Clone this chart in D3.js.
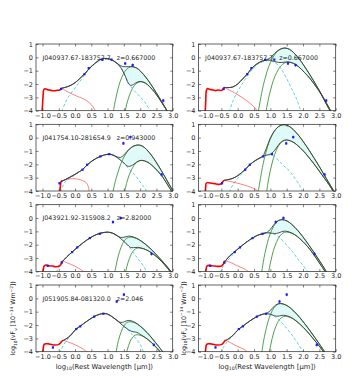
<!DOCTYPE html>
<html><head><meta charset="utf-8">
<script src="https://cdn.jsdelivr.net/npm/d3@7"></script>
<style>body{margin:0;background:#fff}svg{display:block}text{font-family:"DejaVu Sans",sans-serif}</style>
</head><body>
<svg id="c" width="359" height="376"></svg>
<script>
// ---------------- data ----------------
const xTickVals = [-1.0,-0.5,0.0,0.5,1.0,1.5,2.0,2.5,3.0];
const yTickVals = [1,0,-1,-2,-3,-4];
const panelText = ["J040937.67-183757.7   z=0.667000","J040937.67-183757.7   z=0.667000","J041754.10-281654.9   z=0.943000",null,"J043921.92-315908.2   z=2.82000",null,"J051905.84-081320.0   z=2.046",null];
const panelObject = [0,0,1,1,2,2,3,3];
// observed photometry per object: [log wavelength, log nuFnu, error]
const obsA = [[-0.43,-2.37,0.05],[0.29,-1.26,0.05],[0.42,-0.81,0.05],[0.84,-0.19,0.05],[1.12,-0.17,0.05],[1.54,-0.46,0.12],[1.77,-0.58,0.12],[2.71,-3.24,0.12]];
const obsB = [[-0.48,-3.42,0.08],[0.23,-2.40,0.05],[0.37,-2.03,0.05],[0.775,-1.41,0.05],[1.05,-1.24,0.05],[1.485,-0.43,0.12],[1.70,0.04,0.12],[2.66,-2.77,0.12]];
const obsC = [[-0.84,-3.58,0.08],[-0.41,-3.33,0.05],[-0.09,-2.55,0.05],[0.07,-2.2,0.05],[0.455,-1.5,0.05],[0.76,-1.18,0.05],[1.165,-0.3,0.12],[1.40,0.0,0.12],[2.35,-2.69,0.12]];
const obsD = [[-0.68,-3.68,0.08],[0.035,-2.3,0.05],[0.16,-2.1,0.05],[0.585,-1.37,0.05],[0.87,-1.15,0.05],[1.28,-0.24,0.12],[1.50,0.28,0.12],[2.42,-3.49,0.12]];
const obsByObject = [obsA,obsB,obsC,obsD];

const redThick = [
 [[-1.02,-4.3],[-1.0,-3.6],[-0.98,-2.8],[-0.96,-2.42],[-0.92,-2.36],[-0.85,-2.42],[-0.77,-2.46],[-0.7,-2.5],[-0.62,-2.5],[-0.55,-2.47],[-0.47,-2.45],[-0.42,-2.3]],
 [[-1.0,-4.3],[-0.98,-3.4],[-0.96,-2.5],[-0.93,-2.35],[-0.85,-2.4],[-0.75,-2.45],[-0.68,-2.5],[-0.6,-2.45],[-0.5,-2.48],[-0.45,-2.4],[-0.42,-2.25]],
 [[-0.47,-4.3],[-0.45,-3.6],[-0.43,-3.3],[-0.4,-3.22]],
 [[-1.0,-4.3],[-0.98,-3.7],[-0.96,-3.4],[-0.9,-3.38],[-0.8,-3.42],[-0.7,-3.45],[-0.6,-3.5],[-0.52,-3.48],[-0.47,-3.35],[-0.42,-3.2]],
 [[-1.0,-4.3],[-0.98,-3.9],[-0.95,-3.6],[-0.9,-3.52],[-0.8,-3.58],[-0.7,-3.6],[-0.6,-3.65],[-0.5,-3.62],[-0.44,-3.5],[-0.4,-3.28],[-0.37,-3.22]],
 [[-1.0,-4.3],[-0.97,-3.9],[-0.94,-3.6],[-0.88,-3.55],[-0.8,-3.58],[-0.7,-3.6],[-0.6,-3.62],[-0.5,-3.6],[-0.44,-3.45],[-0.4,-3.25],[-0.37,-3.2]],
 [[-1.0,-4.3],[-0.98,-3.8],[-0.95,-3.45],[-0.88,-3.4],[-0.8,-3.42],[-0.7,-3.48],[-0.6,-3.5],[-0.5,-3.45],[-0.45,-3.35],[-0.4,-3.2],[-0.36,-3.15]],
 [[-1.0,-4.3],[-0.98,-3.8],[-0.95,-3.45],[-0.88,-3.4],[-0.8,-3.42],[-0.7,-3.48],[-0.6,-3.5],[-0.5,-3.47],[-0.44,-3.35],[-0.39,-3.17],[-0.36,-3.15]]
];
const redThin = [
 [[-0.42,-2.3],[-0.25,-2.55],[0.0,-2.85],[0.2,-3.05],[0.36,-3.25],[0.5,-3.55],[0.6,-3.9],[0.65,-4.2]],
 [[-0.42,-2.25],[-0.3,-2.4],[-0.1,-2.65],[0.1,-2.95],[0.3,-3.3],[0.45,-3.6],[0.55,-3.85],[0.62,-4.2]],
 [[-0.4,-3.22],[-0.3,-3.15],[-0.15,-3.08],[0.0,-3.08],[0.15,-3.15],[0.3,-3.3],[0.38,-3.5],[0.42,-3.8],[0.44,-4.2]],
 [[-0.42,-3.2],[-0.2,-3.3],[0.0,-3.42],[0.2,-3.55],[0.4,-3.72],[0.55,-3.88],[0.65,-4.1]],
 [[-0.37,-3.22],[-0.25,-3.35],[-0.1,-3.5],[0.05,-3.68],[0.15,-3.82],[0.25,-4.0],[0.3,-4.1]],
 [[-0.37,-3.2],[-0.2,-3.35],[-0.08,-3.5],[0.1,-3.7],[0.23,-3.85],[0.38,-4.1]],
 [[-0.36,-3.15],[-0.2,-3.28],[-0.05,-3.42],[0.1,-3.6],[0.25,-3.8],[0.35,-4.0],[0.4,-4.1]],
 [[-0.36,-3.15],[-0.2,-3.35],[-0.05,-3.55],[0.1,-3.72],[0.23,-3.88],[0.3,-4.1]]
];
const agn = [
 [[-0.41,-4.05],[-0.3,-3.4],[-0.2,-2.95],[0,-2.3],[0.15,-1.8],[0.3,-1.3],[0.44,-0.88],[0.6,-0.5],[0.75,-0.25],[0.9,-0.15],[1.05,-0.15],[1.2,-0.3],[1.35,-0.6],[1.45,-0.95],[1.55,-1.45],[1.65,-1.95],[1.8,-2.45],[2.0,-2.95],[2.15,-3.4],[2.32,-4.05]],
 [[-0.26,-4.1],[-0.15,-3.3],[0,-2.55],[0.2,-1.75],[0.4,-1.05],[0.6,-0.55],[0.75,-0.35],[0.9,-0.25],[1.05,-0.3],[1.2,-0.5],[1.35,-0.95],[1.5,-1.6],[1.65,-2.35],[1.8,-3.1],[1.93,-4.0]],
 [[-0.45,-4.1],[-0.35,-3.5],[-0.26,-3.2],[-0.1,-2.95],[0.1,-2.62],[0.235,-2.38],[0.38,-2.05],[0.55,-1.72],[0.77,-1.43],[0.95,-1.28],[1.07,-1.26],[1.2,-1.36],[1.35,-1.6],[1.5,-1.9],[1.64,-2.3],[1.8,-2.7],[1.95,-3.15],[2.1,-3.65],[2.21,-4.05]],
 [[-0.26,-4.1],[-0.15,-3.55],[0,-3.05],[0.23,-2.42],[0.37,-2.06],[0.55,-1.72],[0.775,-1.42],[0.95,-1.3],[1.05,-1.3],[1.16,-1.48],[1.3,-1.85],[1.45,-2.2],[1.57,-2.46],[1.75,-3.05],[1.9,-3.6],[1.98,-4.0]],
 [[-0.58,-4.1],[-0.5,-3.7],[-0.4,-3.3],[-0.25,-2.9],[-0.09,-2.55],[0.07,-2.2],[0.25,-1.85],[0.455,-1.5],[0.6,-1.3],[0.76,-1.15],[0.9,-1.08],[1.02,-1.07],[1.15,-1.15],[1.3,-1.35],[1.45,-1.65],[1.6,-2.0],[1.75,-2.45],[1.9,-2.95],[2.0,-3.25],[2.1,-3.6],[2.2,-4.0]],
 [[-0.54,-4.1],[-0.45,-3.65],[-0.35,-3.3],[-0.2,-2.9],[-0.09,-2.55],[0.07,-2.2],[0.25,-1.85],[0.455,-1.5],[0.6,-1.3],[0.76,-1.17],[0.9,-1.12],[1.02,-1.13],[1.15,-1.25],[1.26,-1.4],[1.45,-1.9],[1.67,-2.5],[1.85,-3.1],[2.0,-3.55],[2.14,-4.0]],
 [[-0.48,-4.1],[-0.4,-3.7],[-0.3,-3.3],[-0.15,-2.85],[0.035,-2.32],[0.16,-2.1],[0.35,-1.75],[0.585,-1.37],[0.75,-1.2],[0.87,-1.15],[1.0,-1.2],[1.15,-1.42],[1.3,-1.7],[1.45,-2.0],[1.6,-2.3],[1.75,-2.7],[1.9,-3.1],[2.0,-3.45],[2.1,-4.0]],
 [[-0.52,-4.1],[-0.42,-3.6],[-0.3,-3.2],[-0.15,-2.8],[0.035,-2.32],[0.16,-2.1],[0.35,-1.74],[0.585,-1.38],[0.75,-1.2],[0.87,-1.16],[1.0,-1.2],[1.12,-1.35],[1.26,-1.6],[1.45,-2.1],[1.6,-2.55],[1.73,-2.98],[1.87,-3.5],[2.0,-4.0]]
];
const greenUp = [
 [[1.09,-5.55],[1.187,-3.92],[1.245,-3.15],[1.312,-2.43],[1.391,-1.78],[1.488,-1.23],[1.559,-0.965],[1.643,-0.777],[1.75,-0.7],[1.886,-0.8],[2.011,-1.04],[2.187,-1.53],[2.312,-1.96],[2.488,-2.62],[2.643,-3.24],[2.79,-3.85],[2.944,-4.52]],
 [[0.625,-4.15],[0.746,-2.52],[0.819,-1.75],[0.902,-1.03],[1.001,-0.38],[1.122,0.17],[1.211,0.435],[1.316,0.62],[1.45,0.7],[1.586,0.6],[1.711,0.36],[1.887,-0.13],[2.012,-0.56],[2.188,-1.22],[2.343,-1.84],[2.49,-2.45],[2.644,-3.12],[2.79,-3.75],[2.94,-4.4]],
 [[1.059,-5.4],[1.19,-3.77],[1.268,-3.0],[1.359,-2.28],[1.465,-1.63],[1.596,-1.08],[1.692,-0.815],[1.806,-0.627],[1.95,-0.55],[2.079,-0.65],[2.198,-0.89],[2.365,-1.38],[2.484,-1.81],[2.651,-2.47],[2.798,-3.09],[2.938,-3.7],[3.084,-4.37]],
 [[0.6,-4.5],[0.641,-3.88],[0.756,-2.25],[0.824,-1.48],[0.903,-0.76],[0.996,-0.11],[1.111,0.44],[1.195,0.705],[1.294,0.893],[1.42,0.97],[1.561,0.87],[1.691,0.63],[1.874,0.14],[2.004,-0.29],[2.188,-0.95],[2.349,-1.57],[2.502,-2.18],[2.662,-2.85],[2.814,-3.48],[2.97,-4.1]],
 [[1.096,-6.28],[1.183,-4.65],[1.235,-3.88],[1.296,-3.16],[1.367,-2.51],[1.454,-1.96],[1.518,-1.695],[1.594,-1.507],[1.69,-1.43],[1.88,-1.53],[2.055,-1.77],[2.302,-2.26],[2.477,-2.69],[2.723,-3.35],[2.94,-3.97],[3.146,-4.58]],
 [[0.68,-4.98],[0.78,-3.35],[0.84,-2.58],[0.909,-1.86],[0.99,-1.21],[1.09,-0.66],[1.163,-0.395],[1.25,-0.207],[1.36,-0.13],[1.512,-0.23],[1.652,-0.47],[1.849,-0.96],[1.99,-1.39],[2.187,-2.05],[2.36,-2.67],[2.525,-3.28],[2.697,-3.95],[2.86,-4.6]],
 [[1.112,-6.6],[1.196,-4.97],[1.246,-4.2],[1.303,-3.48],[1.371,-2.83],[1.455,-2.28],[1.516,-2.015],[1.588,-1.827],[1.68,-1.75],[1.847,-1.85],[2.001,-2.09],[2.218,-2.58],[2.371,-3.01],[2.588,-3.67],[2.78,-4.29]],
 [[0.67,-5.25],[0.764,-3.62],[0.82,-2.85],[0.885,-2.13],[0.962,-1.48],[1.056,-0.93],[1.125,-0.665],[1.206,-0.477],[1.31,-0.4],[1.47,-0.5],[1.618,-0.74],[1.826,-1.23],[1.973,-1.66],[2.181,-2.32],[2.364,-2.94],[2.537,-3.55],[2.719,-4.22]]
];
const greenLo = [
 [[1.36,-6.68],[1.457,-5.05],[1.515,-4.28],[1.582,-3.56],[1.661,-2.91],[1.758,-2.36],[1.829,-2.095],[1.913,-1.907],[2.02,-1.83],[2.156,-1.93],[2.281,-2.17],[2.457,-2.66],[2.582,-3.09],[2.758,-3.75],[2.913,-4.37]],
 [[0.791,-5.2],[0.903,-3.58],[0.969,-2.81],[1.046,-2.09],[1.137,-1.44],[1.249,-0.89],[1.33,-0.625],[1.427,-0.437],[1.55,-0.36],[1.713,-0.46],[1.863,-0.7],[2.05,-1.15],[2.2,-1.55],[2.4,-2.2],[2.55,-2.75],[2.7,-3.45],[2.85,-4.1],[2.92,-4.4]],
 [[1.344,-6.56],[1.448,-4.93],[1.51,-4.16],[1.581,-3.44],[1.666,-2.79],[1.77,-2.24],[1.846,-1.975],[1.936,-1.787],[2.05,-1.71],[2.206,-1.81],[2.35,-2.05],[2.553,-2.54],[2.696,-2.97],[2.899,-3.75],[3.077,-4.4]],
 [[0.83,-5.03],[0.927,-3.4],[0.985,-2.63],[1.052,-1.91],[1.131,-1.26],[1.228,-0.71],[1.299,-0.445],[1.383,-0.257],[1.49,-0.18],[1.653,-0.28],[1.803,-0.52],[2.014,-1.01],[2.164,-1.44],[2.376,-2.1],[2.56,-2.72],[2.74,-3.33],[2.92,-4.0],[3.0,-4.3]],
 [[1.366,-7.1],[1.45,-5.47],[1.501,-4.7],[1.559,-3.98],[1.628,-3.33],[1.712,-2.78],[1.774,-2.515],[1.847,-2.327],[1.94,-2.25],[2.158,-2.35],[2.358,-2.62],[2.55,-3.0],[2.75,-3.5],[2.95,-4.1]],
 [[0.837,-5.9],[0.933,-4.27],[0.99,-3.5],[1.056,-2.78],[1.135,-2.13],[1.231,-1.58],[1.301,-1.315],[1.384,-1.127],[1.49,-1.05],[1.664,-1.15],[1.824,-1.39],[2.049,-1.9],[2.21,-2.35],[2.4,-3.0],[2.55,-3.55],[2.7,-4.1]],
 [[1.365,-7.58],[1.444,-5.95],[1.491,-5.18],[1.545,-4.46],[1.609,-3.81],[1.688,-3.26],[1.745,-2.995],[1.813,-2.807],[1.9,-2.73],[2.071,-2.83],[2.229,-3.07],[2.45,-3.56],[2.608,-3.99],[2.83,-4.65]],
 [[0.843,-6.2],[0.932,-4.57],[0.985,-3.8],[1.047,-3.08],[1.12,-2.43],[1.209,-1.88],[1.274,-1.615],[1.352,-1.427],[1.45,-1.35],[1.624,-1.45],[1.784,-1.69],[2.009,-2.18],[2.17,-2.61],[2.395,-3.27],[2.593,-3.89],[2.7,-4.3]]
];
const totalUp = [
 [[-0.42,-2.32],[-0.3,-2.25],[-0.15,-2.12],[0,-1.9],[0.15,-1.58],[0.3,-1.22],[0.44,-0.83],[0.6,-0.47],[0.75,-0.2],[0.85,-0.1],[0.95,-0.08],[1.05,-0.12],[1.2,-0.28],[1.35,-0.55],[1.45,-0.68],[1.55,-0.7],[1.65,-0.7],[1.75,-0.69],[1.886,-0.79],[2.011,-1.04],[2.187,-1.53],[2.312,-1.96],[2.488,-2.62],[2.643,-3.24],[2.79,-3.85],[2.944,-4.52]],
 [[-0.42,-2.25],[-0.3,-2.27],[-0.15,-2.22],[0,-2.0],[0.15,-1.62],[0.29,-1.26],[0.42,-0.85],[0.6,-0.47],[0.75,-0.28],[0.84,-0.22],[0.902,-0.16],[1.001,-0.02],[1.122,0.27],[1.211,0.47],[1.316,0.63],[1.45,0.7],[1.586,0.6],[1.711,0.36],[1.887,-0.13],[2.012,-0.56],[2.188,-1.22],[2.343,-1.84],[2.49,-2.45],[2.644,-3.12],[2.79,-3.75],[2.94,-4.4]],
 [[-0.43,-3.3],[-0.3,-3.15],[-0.15,-2.95],[0,-2.75],[0.1,-2.6],[0.235,-2.38],[0.38,-2.03],[0.55,-1.7],[0.77,-1.41],[0.95,-1.27],[1.07,-1.24],[1.2,-1.33],[1.3,-1.45],[1.4,-1.48],[1.5,-1.3],[1.596,-1.03],[1.692,-0.81],[1.806,-0.627],[1.95,-0.55],[2.079,-0.65],[2.198,-0.89],[2.365,-1.38],[2.484,-1.81],[2.651,-2.47],[2.798,-3.09],[2.938,-3.7],[3.084,-4.37]],
 [[-0.42,-3.2],[-0.3,-3.15],[-0.15,-3.05],[0,-2.85],[0.23,-2.38],[0.37,-2.03],[0.55,-1.7],[0.775,-1.38],[0.824,-1.12],[0.903,-0.64],[0.996,-0.05],[1.111,0.46],[1.195,0.715],[1.294,0.9],[1.42,0.975],[1.561,0.87],[1.691,0.63],[1.874,0.14],[2.004,-0.29],[2.188,-0.95],[2.349,-1.57],[2.502,-2.18],[2.662,-2.85],[2.814,-3.48],[2.97,-4.1]],
 [[-0.37,-3.22],[-0.25,-2.9],[-0.09,-2.55],[0.07,-2.2],[0.25,-1.85],[0.455,-1.5],[0.6,-1.3],[0.76,-1.15],[0.9,-1.08],[1.02,-1.06],[1.15,-1.13],[1.3,-1.33],[1.4,-1.45],[1.5,-1.44],[1.6,-1.38],[1.69,-1.36],[1.88,-1.5],[2.055,-1.76],[2.302,-2.26],[2.477,-2.69],[2.723,-3.35],[2.94,-3.97],[3.146,-4.58]],
 [[-0.37,-3.2],[-0.25,-2.85],[-0.09,-2.52],[0.07,-2.18],[0.25,-1.84],[0.455,-1.5],[0.6,-1.3],[0.76,-1.17],[0.84,-1.12],[0.909,-1.05],[0.99,-0.87],[1.09,-0.55],[1.163,-0.34],[1.25,-0.18],[1.36,-0.115],[1.512,-0.22],[1.652,-0.47],[1.849,-0.96],[1.99,-1.39],[2.187,-2.05],[2.36,-2.67],[2.525,-3.28],[2.697,-3.95],[2.86,-4.6]],
 [[-0.36,-3.15],[-0.25,-3.0],[-0.15,-2.8],[0.035,-2.3],[0.16,-2.08],[0.35,-1.74],[0.585,-1.37],[0.75,-1.2],[0.87,-1.14],[1.0,-1.18],[1.15,-1.4],[1.3,-1.66],[1.371,-1.78],[1.455,-1.8],[1.516,-1.75],[1.588,-1.68],[1.68,-1.66],[1.847,-1.81],[2.001,-2.08],[2.218,-2.58],[2.371,-3.01],[2.588,-3.67],[2.78,-4.29]],
 [[-0.36,-3.15],[-0.25,-2.98],[-0.15,-2.78],[0.035,-2.3],[0.16,-2.08],[0.35,-1.73],[0.585,-1.37],[0.75,-1.2],[0.82,-1.16],[0.885,-1.12],[0.962,-1.0],[1.056,-0.76],[1.125,-0.58],[1.206,-0.44],[1.31,-0.38],[1.47,-0.49],[1.618,-0.73],[1.826,-1.23],[1.973,-1.66],[2.181,-2.32],[2.364,-2.94],[2.537,-3.55],[2.719,-4.22]]
];
const totalLo = [
 [[-0.42,-2.32],[-0.3,-2.25],[-0.15,-2.12],[0,-1.9],[0.15,-1.58],[0.3,-1.22],[0.44,-0.83],[0.6,-0.47],[0.75,-0.2],[0.85,-0.1],[0.95,-0.08],[1.05,-0.12],[1.2,-0.3],[1.35,-0.6],[1.45,-0.95],[1.55,-1.45],[1.63,-1.92],[1.7,-2.1],[1.758,-2.08],[1.829,-1.98],[1.913,-1.86],[2.02,-1.81],[2.156,-1.92],[2.281,-2.17],[2.457,-2.66],[2.582,-3.09],[2.758,-3.75],[2.913,-4.37]],
 [[-0.42,-2.25],[-0.3,-2.27],[-0.15,-2.22],[0,-2.0],[0.15,-1.62],[0.29,-1.26],[0.42,-0.85],[0.6,-0.47],[0.75,-0.28],[0.84,-0.22],[0.92,-0.2],[1.0,-0.22],[1.137,-0.32],[1.249,-0.38],[1.33,-0.39],[1.427,-0.36],[1.55,-0.34],[1.713,-0.46],[1.863,-0.7],[2.05,-1.15],[2.2,-1.55],[2.4,-2.2],[2.55,-2.75],[2.7,-3.45],[2.85,-4.1]],
 [[-0.43,-3.3],[-0.3,-3.15],[-0.15,-2.95],[0,-2.75],[0.1,-2.6],[0.235,-2.38],[0.38,-2.03],[0.55,-1.7],[0.77,-1.41],[0.95,-1.27],[1.07,-1.24],[1.2,-1.35],[1.35,-1.6],[1.5,-1.9],[1.6,-2.12],[1.68,-2.15],[1.77,-2.06],[1.846,-1.92],[1.936,-1.77],[2.05,-1.7],[2.206,-1.81],[2.35,-2.05],[2.553,-2.54],[2.696,-2.97],[2.899,-3.75],[3.077,-4.4]],
 [[-0.42,-3.2],[-0.3,-3.15],[-0.15,-3.05],[0,-2.85],[0.23,-2.38],[0.37,-2.03],[0.55,-1.7],[0.775,-1.4],[0.9,-1.3],[0.985,-1.25],[1.052,-1.15],[1.131,-0.95],[1.228,-0.62],[1.299,-0.4],[1.383,-0.25],[1.49,-0.17],[1.653,-0.28],[1.803,-0.52],[2.014,-1.01],[2.164,-1.44],[2.376,-2.1],[2.56,-2.72],[2.74,-3.33],[2.92,-4.0],[3.0,-4.3]],
 [[-0.37,-3.22],[-0.25,-2.9],[-0.09,-2.55],[0.07,-2.2],[0.25,-1.85],[0.455,-1.5],[0.6,-1.3],[0.76,-1.15],[0.9,-1.08],[1.02,-1.06],[1.15,-1.13],[1.3,-1.33],[1.4,-1.53],[1.5,-1.75],[1.6,-1.98],[1.7,-2.2],[1.8,-2.22],[1.94,-2.2],[2.05,-2.26],[2.158,-2.35],[2.358,-2.62],[2.55,-3.0],[2.75,-3.5],[2.95,-4.1]],
 [[-0.37,-3.2],[-0.25,-2.85],[-0.09,-2.52],[0.07,-2.18],[0.25,-1.84],[0.455,-1.5],[0.6,-1.3],[0.76,-1.17],[0.84,-1.12],[0.99,-1.12],[1.135,-1.16],[1.231,-1.13],[1.301,-1.07],[1.384,-1.0],[1.49,-0.99],[1.664,-1.13],[1.824,-1.38],[2.049,-1.9],[2.21,-2.35],[2.4,-3.0],[2.55,-3.55],[2.7,-4.1]],
 [[-0.36,-3.15],[-0.25,-3.0],[-0.15,-2.8],[0.035,-2.3],[0.16,-2.08],[0.35,-1.74],[0.585,-1.37],[0.75,-1.2],[0.87,-1.14],[1.0,-1.18],[1.15,-1.4],[1.3,-1.68],[1.45,-2.0],[1.6,-2.28],[1.688,-2.42],[1.745,-2.48],[1.813,-2.52],[1.9,-2.55],[2.0,-2.7],[2.071,-2.8],[2.229,-3.07],[2.45,-3.56],[2.608,-3.99],[2.83,-4.65]],
 [[-0.36,-3.15],[-0.25,-2.98],[-0.15,-2.78],[0.035,-2.3],[0.16,-2.08],[0.35,-1.73],[0.585,-1.37],[0.75,-1.2],[0.885,-1.15],[0.985,-1.19],[1.047,-1.23],[1.12,-1.3],[1.209,-1.34],[1.274,-1.32],[1.352,-1.28],[1.45,-1.28],[1.624,-1.42],[1.784,-1.68],[2.009,-2.18],[2.17,-2.61],[2.395,-3.27],[2.593,-3.89],[2.7,-4.3]]
];

// ---------------- layout ----------------
const colLeft = [36, 198.5], colRight = [172.7, 335.7];
const rowTop = [44, 124.3, 204.7, 285], rowH = 66.7;
const svg = d3.select("#c");
const minus = s => s.replace("-", "\u2212");

for (let i = 0; i < 8; i++) {
  const col = i % 2, row = Math.floor(i / 2);
  const x0 = colLeft[col], x1 = colRight[col], y0 = rowTop[row], y1 = y0 + rowH;
  const x = d3.scaleLinear().domain([-1.2, 3.0]).range([x0, x1]);
  const y = d3.scaleLinear().domain([-4, 1]).range([y1, y0]);
  const g = svg.append("g");
  const cid = "clip" + i;
  svg.append("clipPath").attr("id", cid).append("rect")
    .attr("x", x0).attr("y", y0).attr("width", x1 - x0).attr("height", y1 - y0);
  const pg = g.append("g").attr("clip-path", `url(#${cid})`);
  const line = d3.line().x(d => x(d[0])).y(d => y(d[1])).curve(d3.curveCatmullRom.alpha(0.5));

  // fill between the two total models
  const up = line(totalUp[i]);
  const loRev = line(totalLo[i].slice().reverse());
  pg.append("path").attr("d", up + "L" + loRev.slice(1) + "Z")
    .attr("fill", "#e0fafa").attr("stroke", "none");

  pg.append("path").attr("d", line(greenUp[i])).attr("fill", "none").attr("stroke", "#3a963a").attr("stroke-width", 0.9);
  pg.append("path").attr("d", line(greenLo[i])).attr("fill", "none").attr("stroke", "#3a963a").attr("stroke-width", 0.9);
  pg.append("path").attr("d", line(agn[i])).attr("fill", "none").attr("stroke", "#40d2d2").attr("stroke-width", 0.9).attr("stroke-dasharray", "3,2");
  pg.append("path").attr("d", line(redThin[i])).attr("fill", "none").attr("stroke", "#ff4a4a").attr("stroke-width", 0.7);
  pg.append("path").attr("d", line(redThick[i])).attr("fill", "none").attr("stroke", "#ff0000").attr("stroke-width", 1.6);
  pg.append("path").attr("d", line(totalLo[i])).attr("fill", "none").attr("stroke", "#3a3a3a").attr("stroke-width", 0.9);
  pg.append("path").attr("d", line(totalUp[i])).attr("fill", "none").attr("stroke", "#3a3a3a").attr("stroke-width", 0.9);

  const obs = obsByObject[panelObject[i]];
  pg.selectAll(".eb").data(obs).join("line")
    .attr("x1", d => x(d[0])).attr("x2", d => x(d[0]))
    .attr("y1", d => y(d[1] - d[2])).attr("y2", d => y(d[1] + d[2]))
    .attr("stroke", "#2020ff").attr("stroke-width", 0.7);
  pg.selectAll(".pt").data(obs).join("rect")
    .attr("x", d => x(d[0]) - 1.1).attr("y", d => y(d[1]) - 1.1)
    .attr("width", 2.2).attr("height", 2.2).attr("fill", "#1a1aff");

  if (panelText[i]) {
    g.append("text").attr("x", x(-1.0)).attr("y", y(0)).attr("dy", "0.35em")
      .attr("font-size", 6.3).attr("fill", "#222").attr("xml:space", "preserve")
      .style("white-space", "pre").text(panelText[i]);
  }

  // axes with inward ticks
  const fmtX = v => minus(d3.format(".1f")(v));
  const fmtY = v => minus(String(v));
  const ax = g.append("g").attr("transform", `translate(0,${y1})`)
    .call(d3.axisBottom(x).tickValues(xTickVals).tickSize(-2.5).tickPadding(2.3).tickFormat(fmtX));
  const at = g.append("g").attr("transform", `translate(0,${y0})`)
    .call(d3.axisTop(x).tickValues(xTickVals).tickSize(-2.5).tickFormat(""));
  const al = g.append("g").attr("transform", `translate(${x0},0)`)
    .call(d3.axisLeft(y).tickValues(yTickVals).tickSize(-2.5).tickPadding(3).tickFormat(fmtY));
  const ar = g.append("g").attr("transform", `translate(${x1},0)`)
    .call(d3.axisRight(y).tickValues(yTickVals).tickSize(-2.5).tickFormat(""));
  [ax, at, al, ar].forEach(a => {
    a.select(".domain").remove();
    a.selectAll("line").attr("stroke", "#333").attr("stroke-width", 0.6);
    a.selectAll("text").attr("font-size", 6.5).attr("fill", "#222").attr("font-family", "DejaVu Sans");
  });
  g.append("rect").attr("x", x0).attr("y", y0).attr("width", x1 - x0).attr("height", y1 - y0)
    .attr("fill", "none").attr("stroke", "#222").attr("stroke-width", 0.7);

  if (row === 3) {
    const xl = g.append("text").attr("x", (x0 + x1) / 2).attr("y", 368.5).attr("text-anchor", "middle")
      .attr("font-size", 6.8).attr("fill", "#222");
    xl.append("tspan").text("log");
    xl.append("tspan").attr("font-size", 4.6).attr("dy", 1.6).text("10");
    xl.append("tspan").attr("dy", -1.6).text("(Rest Wavelength [\u03bcm])");

    const yx = col === 0 ? 15 : 185.5, yc = (y0 + y1) / 2;
    const yl = g.append("text").attr("transform", `translate(${yx},${yc}) rotate(-90)`)
      .attr("text-anchor", "middle").attr("font-size", 6.3).attr("fill", "#222");
    yl.append("tspan").text("log");
    yl.append("tspan").attr("font-size", 4.3).attr("dy", 1.5).text("10");
    yl.append("tspan").attr("dy", -1.5).text("(\u03bdF");
    yl.append("tspan").attr("font-size", 4.3).attr("dy", 1.5).text("\u03bd");
    yl.append("tspan").attr("dy", -1.5).text(" [10");
    yl.append("tspan").attr("font-size", 4.3).attr("dy", -2.5).text("\u221214");
    yl.append("tspan").attr("dy", 2.5).text(" Wm");
    yl.append("tspan").attr("font-size", 4.3).attr("dy", -2.5).text("\u22122");
    yl.append("tspan").attr("dy", 2.5).text("])");
  }
}
</script>
</body></html>
